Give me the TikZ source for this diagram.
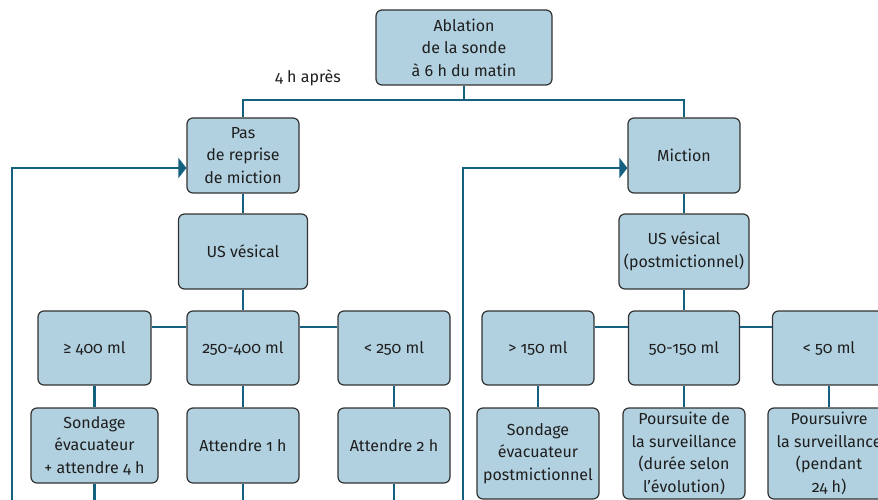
\documentclass[tikz,border=0pt]{standalone}
\usepackage{fontspec}
\setmainfont{Fira Sans}[Numbers=OldStyle]
\usetikzlibrary{arrows.meta}
\definecolor{boxfill}{RGB}{178,209,224}
\definecolor{linec}{RGB}{19,96,127}
\definecolor{txt}{RGB}{30,30,30}
\definecolor{bord}{RGB}{50,50,50}
\begin{document}
\begin{tikzpicture}[x=1pt,y=-1pt,
  box/.style={draw=bord, line width=1.2pt, fill=boxfill, rounded corners=6pt, align=center,
    text=txt, font=\fontsize{16}{22.5}\selectfont, inner sep=1pt},
  conn/.style={draw=linec, line width=2.9pt},
  arr/.style={conn, -{Triangle[length=8pt,width=20pt]}}]
\path[use as bounding box, clip] (0,0) rectangle (878,500);

% nodes
\node[box, minimum width=176pt, minimum height=75pt] (abl) at (464,47.5) {Ablation\\de la sonde\\à 6 h du matin};
\node[text=txt, font=\fontsize{16}{22.5}\selectfont] (lbl) at (308,78) {4 h après};
\node[box, minimum width=112pt, minimum height=75pt] (pas) at (243,155.5) {Pas\\de reprise\\de miction};
\node[box, minimum width=112pt, minimum height=75pt] (mic) at (684,155.5) {Miction};
\node[box, minimum width=129pt, minimum height=75pt] (usl) at (243,251.5) {US vésical};
\node[box, minimum width=130pt, minimum height=75pt] (usr) at (684,251.5) {US vésical\\(postmictionnel)};

\node[box, minimum width=113pt, minimum height=74pt] (a1) at (94.5,348) {≥ 400 ml};
\node[box, minimum width=112pt, minimum height=74pt] (a2) at (243,348) {250-400 ml};
\node[box, minimum width=112pt, minimum height=74pt] (a3) at (394,348) {< 250 ml};
\node[box, minimum width=112pt, minimum height=74pt] (b1) at (538,348) {> 150 ml};
\node[box, minimum width=111pt, minimum height=74pt] (b2) at (684,348) {50-150 ml};
\node[box, minimum width=113pt, minimum height=74pt] (b3) at (829,348) {< 50 ml};

\node[box, minimum width=127pt, minimum height=75pt] (c1) at (94.5,445.5) {Sondage\\évacuateur\\+ attendre 4 h};
\node[box, minimum width=112pt, minimum height=75pt] (c2) at (243,445.5) {Attendre 1 h};
\node[box, minimum width=112pt, minimum height=75pt] (c3) at (394,445.5) {Attendre 2 h};
\node[box, minimum width=122pt, minimum height=91pt] (d1) at (538,453.5) {Sondage\\évacuateur\\postmictionnel};
\node[box, minimum width=122pt, minimum height=91pt] (d2) at (684,453.5) {Poursuite de\\la surveillance\\(durée selon\\l’évolution)};
\node[box, minimum width=122pt, minimum height=91pt] (d3) at (829,453.5) {Poursuivre\\la surveillance\\(pendant\\24 h)};

% helper coordinates
\coordinate (j) at (464,100);
\coordinate (hl) at (0,327);
\coordinate (bot) at (0,500);
\coordinate (lt) at (12,168);
\coordinate (rt) at (463,168);

% connectors
\draw[conn] (abl.south) -- (j);
\draw[conn] (pas.north) |- (j) -| (mic.north);
\draw[conn] (pas) -- (usl);
\draw[conn] (mic) -- (usr);
\draw[conn] (usl) -- (a2);
\draw[conn] (usr) -- (b2);
\draw[conn] (a1.east |- hl) -- (a2.west |- hl);
\draw[conn] (a2.east |- hl) -- (a3.west |- hl);
\draw[conn] (b1.east |- hl) -- (b2.west |- hl);
\draw[conn] (b2.east |- hl) -- (b3.west |- hl);
\draw[conn] (a1) -- (c1);
\draw[conn] (a2) -- (c2);
\draw[conn] (a3) -- (c3);
\draw[conn] (b1) -- (d1);
\draw[conn] (b2) -- (d2);
\draw[conn] (b3) -- (d3);
\draw[conn] (c1.south) -- (c1.south |- bot);
\draw[conn] (c2.south) -- (c2.south |- bot);
\draw[conn] (c3.south) -- (c3.south |- bot);
\draw[arr] (lt |- bot) -- (lt) -- (lt -| pas.west);
\draw[arr] (rt |- bot) -- (rt) -- (rt -| mic.west);
\end{tikzpicture}
\end{document}
